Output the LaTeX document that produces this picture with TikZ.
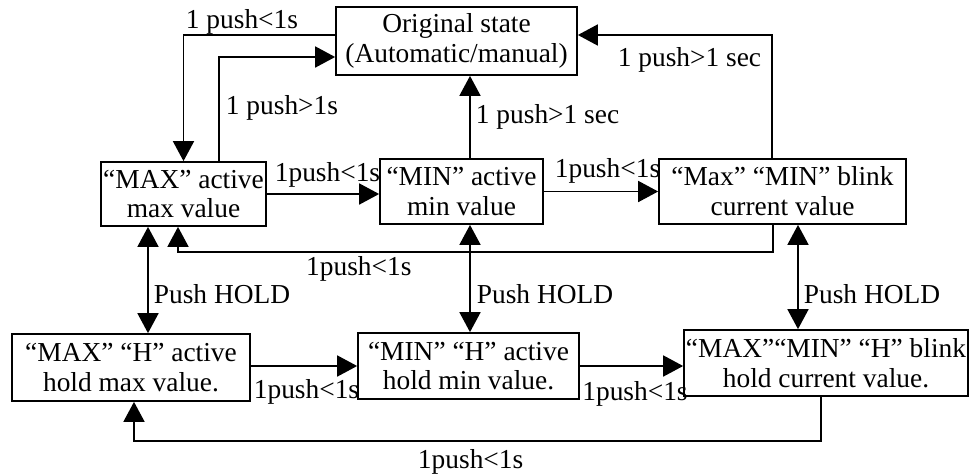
\documentclass[tikz,border=0pt]{standalone}
\usepackage{fontspec}
\setmainfont{Liberation Serif}
\usetikzlibrary{arrows.meta}
\begin{document}
\begin{tikzpicture}[x=0.02cm,y=-0.02cm,
  every node/.style={font=\fontsize{15.6pt}{17pt}\selectfont},
  state/.style={draw,line width=1pt,align=center,inner sep=0pt},
  arr/.style={line width=1pt,-{Triangle[length=0.4cm,width=0.42cm]}},
  darr/.style={line width=1pt,{Triangle[length=0.4cm,width=0.42cm]}-{Triangle[length=0.4cm,width=0.42cm]}},
  lbl/.style={inner sep=0pt}]
\useasboundingbox (0,0) rectangle (969,474);

% states
\node[state,minimum width=4.82cm,minimum height=1.36cm] (orig) at (456.5,41) {Original state\\(Automatic/manual)};
\node[state,minimum width=3.3cm,minimum height=1.28cm] (max) at (183.5,194) {“MAX” active\\max value};
\node[state,minimum width=3.26cm,minimum height=1.3cm] (min) at (461.5,191.5) {“MIN” active\\min value};
\node[state,minimum width=4.94cm,minimum height=1.3cm] (blink) at (782.5,191.5) {“Max” “MIN” blink\\current value};
\node[state,minimum width=4.76cm,minimum height=1.34cm] (maxh) at (131,367.5) {“MAX” “H” active\\hold max value.};
\node[state,minimum width=4.42cm,minimum height=1.32cm] (minh) at (468.5,366) {“MIN” “H” active\\hold min value.};
\node[state,minimum width=5.68cm,minimum height=1.32cm] (blinkh) at (826,363) {“MAX”“MIN” “H” blink\\hold current value.};

% to and from the original state
\draw[arr] ([yshift=0.12cm]orig.west) -| node[lbl,pos=0.5,anchor=base west,xshift=0.03cm,yshift=0.14cm] {1 push<1s} (max.north);
\draw[arr] ([xshift=0.71cm]max.north) |- node[lbl,pos=0.25,anchor=base west,xshift=0.12cm,yshift=-0.11cm] {1 push>1s} ([yshift=-0.32cm]orig.west);
\draw[arr] ([xshift=0.17cm]min.north) -- node[lbl,midway,anchor=base west,xshift=0.1cm,yshift=-0.12cm] {1 push>1 sec} ([xshift=0.17cm]min.north |- orig.south);
\draw[arr] ([xshift=-0.21cm]blink.north) |- node[lbl,pos=0.5,anchor=base east,xshift=-0.2cm,yshift=-0.64cm] {1 push>1 sec} ([yshift=0.12cm]orig.east);

% upper row
\draw[arr] (max.east) -- node[lbl,midway,anchor=base,xshift=0.09cm,yshift=0.26cm] {1push<1s} (max.east -| min.west);
\draw[arr] (min.east) -- node[lbl,midway,anchor=base,xshift=0.13cm,yshift=0.28cm] {1push<1s} (blink.west);
\draw[arr] ([xshift=-0.19cm]blink.south) -- ++(0,27) -| node[lbl,pos=0.348,anchor=base,yshift=-0.48cm] {1push<1s} ([xshift=-0.11cm]max.south);

% hold
\draw[darr] ([xshift=-0.71cm]max.south) -- node[lbl,midway,anchor=base west,xshift=0.1cm,yshift=-0.46cm] {Push HOLD} ([xshift=-0.71cm]max.south |- maxh.north);
\draw[darr] ([xshift=0.17cm]min.south) -- node[lbl,midway,anchor=base west,xshift=0.12cm,yshift=-0.49cm] {Push HOLD} ([xshift=0.17cm]min.south |- minh.north);
\draw[darr] ([xshift=0.31cm]blink.south) -- node[lbl,midway,anchor=base west,xshift=0.1cm,yshift=-0.52cm] {Push HOLD} ([xshift=0.31cm]blink.south |- blinkh.north);

% lower row
\draw[arr] (minh.west -| maxh.east) -- node[lbl,midway,anchor=base,xshift=0.05cm,yshift=-0.64cm] {1push<1s} (minh.west);
\draw[arr] (minh.east) -- node[lbl,midway,anchor=base,xshift=0.07cm,yshift=-0.68cm] {1push<1s} (minh.east -| blinkh.west);
\draw[arr] ([xshift=-0.1cm]blinkh.south) -- ++(0,44) -| node[lbl,pos=0.255,anchor=base,yshift=-0.56cm] {1push<1s} ([xshift=0.06cm]maxh.south);
\end{tikzpicture}
\end{document}
